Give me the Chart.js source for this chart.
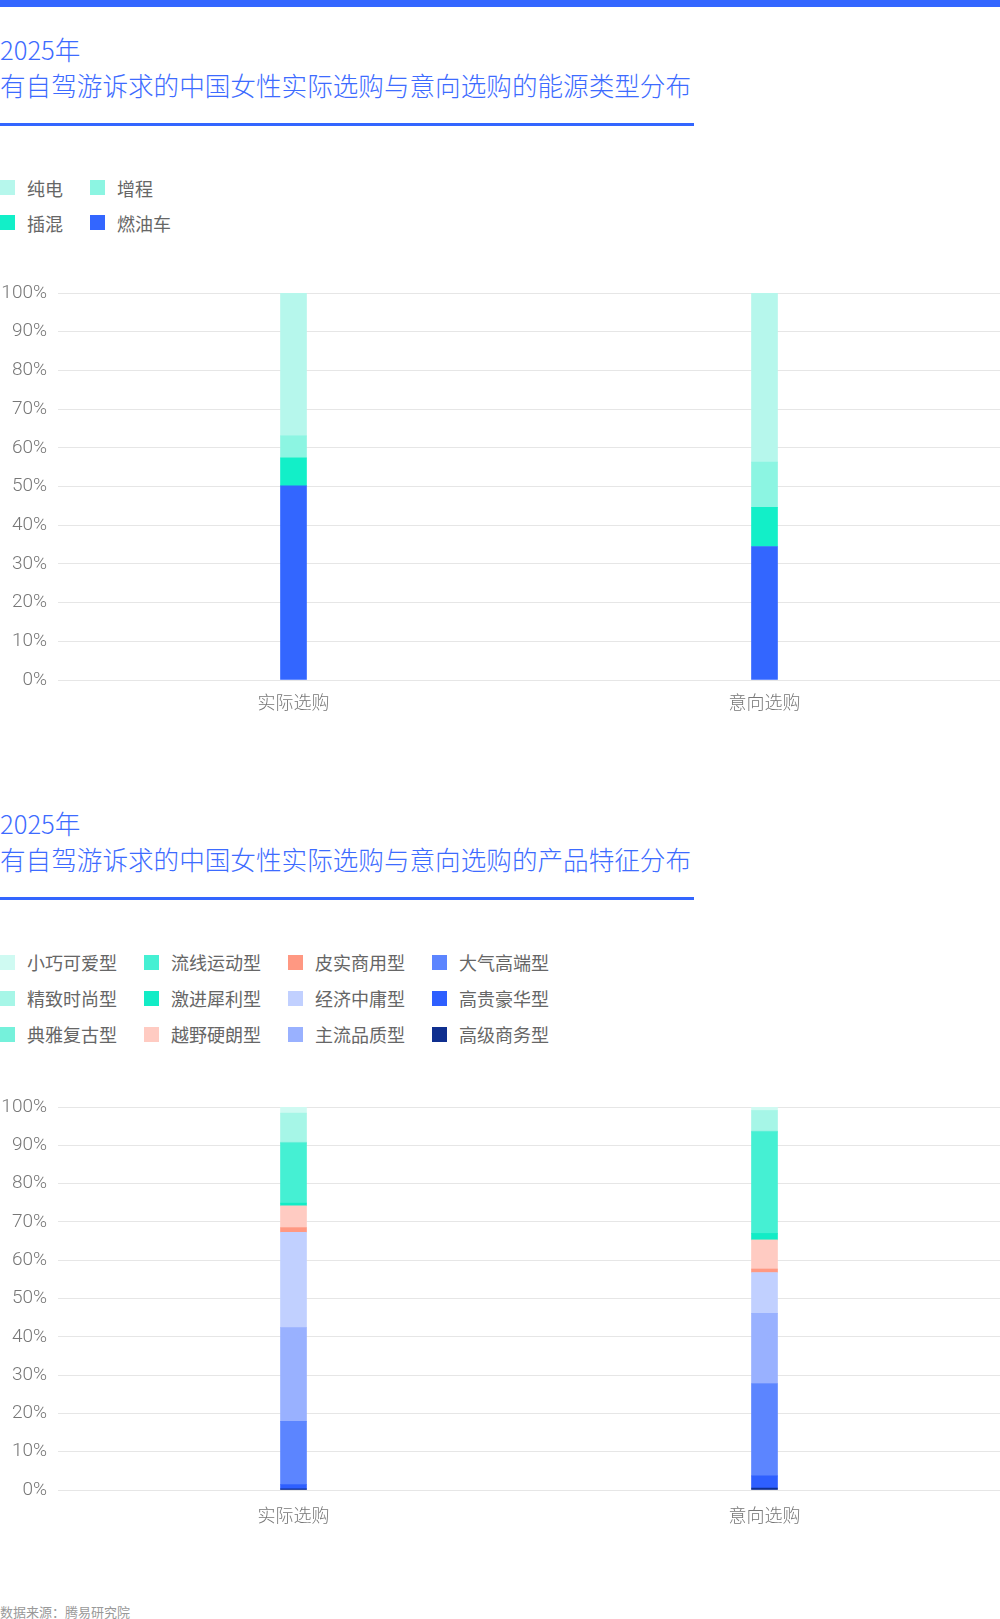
<!DOCTYPE html>
<html lang="zh-CN">
<head>
<meta charset="UTF-8">
<meta name="viewport" content="width=device-width, initial-scale=1.0">
<title>有自驾游诉求的中国女性实际选购与意向选购</title>
<style>
    html, body { margin: 0; padding: 0; background: #fff; }
    body { width: 1000px; height: 1619px; position: relative; overflow: hidden; font-family: "Noto Sans CJK SC", sans-serif; }
    .topbar { position: absolute; left: 0; top: 0; width: 1000px; height: 7px; background: #3366ff; }
    .title { position: absolute; left: 0; font-size: 25.6px; line-height: 36px; color: #3d6bff; font-weight: 300; }
    .rule { position: absolute; left: 0; width: 694px; height: 3px; background: #3366ff; }
    .legend { position: absolute; left: 0; display: grid; column-gap: 27px; font-size: 18px; color: #666; justify-content: start; }
    .legend .item { display: flex; align-items: center; white-space: nowrap; }
    .legend .sw { width: 15px; height: 15px; margin-right: 12px; flex: none; }
    .chart-box { position: absolute; left: 0; width: 1000px; height: 450px; }
    .source { position: absolute; left: 0; top: 1603px; font-size: 13px; line-height: 17px; color: #999; }
</style>
</head>
<body>
    <div class="topbar"></div>

    <div class="title" style="top:31px">2025年<br>有自驾游诉求的中国女性实际选购与意向选购的能源类型分布</div>
    <div class="rule" style="top:123px"></div>
    <div class="legend" id="legend-energy" style="top:170px; grid-template-columns: repeat(2, auto); grid-auto-rows: 35px;"></div>
    <div class="chart-box" style="top:270px"><canvas id="energy-chart" width="1000" height="450"></canvas></div>

    <div class="title" style="top:805px">2025年<br>有自驾游诉求的中国女性实际选购与意向选购的产品特征分布</div>
    <div class="rule" style="top:897px"></div>
    <div class="legend" id="legend-feature" style="top:944px; grid-auto-flow: column; grid-template-rows: repeat(3, 36px);"></div>
    <div class="chart-box" style="top:1080px"><canvas id="feature-chart" width="1000" height="450"></canvas></div>

    <div class="source">数据来源：腾易研究院</div>

    <script src="https://cdn.jsdelivr.net/npm/chart.js"></script>
    <script>
        // categories (x axis)
        const categories = ['实际选购', '意向选购'];
        const yTicks = [0, 10, 20, 30, 40, 50, 60, 70, 80, 90, 100];

        // energy types, stacked from bottom to top
        const energyTypes = ['燃油车', '插混', '增程', '纯电'];
        const energyActual = [50.2, 7.2, 5.7, 36.9];
        const energyIntended = [34.5, 10.1, 11.7, 43.7];
        const energyColors = ['#3366ff', '#12efc8', '#8cf5e2', '#b6f7ec'];

        // product features, stacked from bottom to top
        const featureTypes = ['高级商务型', '高贵豪华型', '大气高端型', '主流品质型', '经济中庸型', '皮实商用型',
                              '越野硬朗型', '激进犀利型', '流线运动型', '典雅复古型', '精致时尚型', '小巧可爱型'];
        const featureActual = [0.3, 1.1, 16.5, 24.5, 24.9, 1.2, 5.7, 0.7, 15.7, 0.2, 7.6, 1.6];
        const featureIntended = [0.5, 3.2, 24.1, 18.3, 10.7, 0.9, 7.6, 1.7, 26.5, 0.2, 5.4, 0.9];
        const featureColors = ['#0f2f8f', '#2e5fff', '#5c85ff', '#99b1ff', '#c1d0ff', '#ff9882',
                               '#ffcbc2', '#12ecc6', '#45f0d3', '#75f1db', '#a6f6e7', '#cffaf2'];

        const yFont = { family: 'Roboto, "Noto Sans CJK SC", sans-serif', size: 19, weight: 300 };
        const xFont = { family: '"Noto Sans CJK SC", sans-serif', size: 18, weight: 300 };

        function makeDatasets(types, actual, intended, colors) {
            return types.map((name, i) => ({
                label: name,
                data: [actual[i], intended[i]],
                backgroundColor: colors[i],
                borderWidth: 0,
                barThickness: 26
            }));
        }

        function makeChart(canvasId, datasets, padTop, labelPad) {
            return new Chart(document.getElementById(canvasId), {
                type: 'bar',
                data: { labels: categories, datasets: datasets },
                options: {
                    responsive: false,
                    animation: false,
                    layout: { padding: { top: padTop, right: 0, bottom: 0, left: 0 } },
                    plugins: { legend: { display: false }, tooltip: { enabled: false } },
                    scales: {
                        x: {
                            stacked: true,
                            grid: { display: false, drawTicks: false },
                            border: { display: false },
                            ticks: { color: '#777', font: xFont, padding: labelPad },
                            afterFit: s => { s.height = 40; }
                        },
                        y: {
                            stacked: true,
                            min: 0,
                            max: 100,
                            afterBuildTicks: s => { s.ticks = yTicks.map(v => ({ value: v })); },
                            grid: { color: '#e6e6e6', lineWidth: 1, drawTicks: false },
                            border: { display: false },
                            ticks: { color: '#777', font: yFont, padding: 11, callback: v => v + '%' },
                            afterFit: s => { s.width = 58; }
                        }
                    }
                }
            });
        }

        // legend lists the series top-down, i.e. reversed stacking order
        function buildLegend(elId, chart) {
            const el = document.getElementById(elId);
            chart.data.datasets.slice().reverse().forEach(ds => {
                const item = document.createElement('div');
                item.className = 'item';
                const sw = document.createElement('span');
                sw.className = 'sw';
                sw.style.background = ds.backgroundColor;
                const txt = document.createElement('span');
                txt.textContent = ds.label;
                item.appendChild(sw);
                item.appendChild(txt);
                el.appendChild(item);
            });
        }

        const energyChart = makeChart('energy-chart', makeDatasets(energyTypes, energyActual, energyIntended, energyColors), 23, 11);
        const featureChart = makeChart('feature-chart', makeDatasets(featureTypes, featureActual, featureIntended, featureColors), 27, 14);
        buildLegend('legend-energy', energyChart);
        buildLegend('legend-feature', featureChart);
    </script>
</body>
</html>
